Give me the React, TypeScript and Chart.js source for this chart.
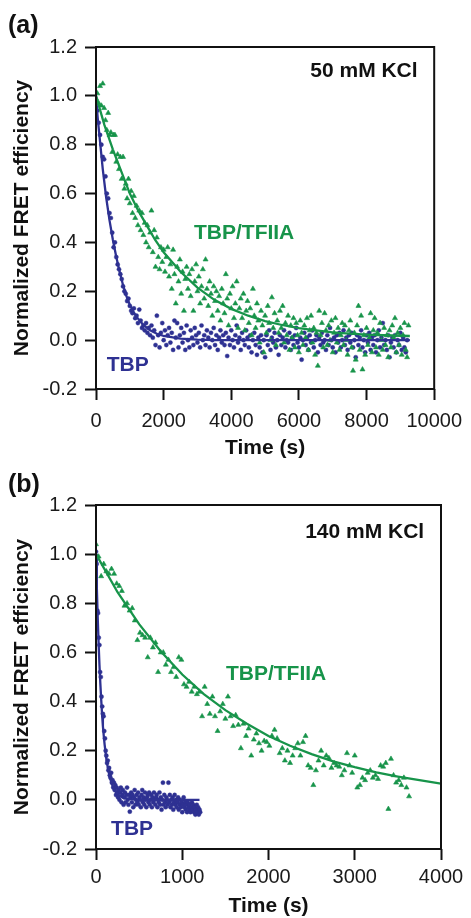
import React, { useEffect, useRef } from 'react';
import { Chart, registerables } from 'chart.js';

Chart.register(...registerables);

// ---------------- Panel (a): 50 mM KCl ----------------
const aTFIIAPoints: [number, number][] = [
  [0,0.99],[40,1.01],[80,0.97],[120,1.04],[160,0.96],[200,1.05],[240,0.95],[280,0.90],[320,0.86],[360,0.93],
  [400,0.84],[440,0.85],[480,0.77],[520,0.84],[560,0.84],[600,0.73],[640,0.76],[680,0.70],[720,0.75],[760,0.66],
  [800,0.75],[840,0.62],[880,0.64],[920,0.58],[960,0.66],[1000,0.56],[1040,0.61],[1080,0.52],[1120,0.59],[1160,0.50],
  [1200,0.55],[1240,0.47],[1280,0.53],[1320,0.45],[1360,0.52],[1400,0.43],[1440,0.48],[1480,0.40],[1520,0.47],[1560,0.38],
  [1600,0.44],[1640,0.53],[1680,0.36],[1720,0.45],[1760,0.30],[1800,0.42],[1840,0.34],[1880,0.29],[1920,0.38],[1960,0.32],
  [2000,0.37],[2040,0.28],[2080,0.34],[2120,0.38],[2160,0.26],[2200,0.31],[2240,0.21],[2280,0.37],[2320,0.27],[2360,0.15],
  [2400,0.30],[2440,0.24],[2480,0.33],[2520,0.19],[2560,0.28],[2600,0.12],[2640,0.25],[2680,0.30],[2720,0.21],[2760,0.27],
  [2800,0.18],[2840,0.29],[2880,0.12],[2920,0.24],[2960,0.31],[3000,0.20],[3040,0.26],[3080,0.15],[3120,0.22],[3160,0.29],
  [3200,0.17],[3240,0.33],[3280,0.21],[3320,0.14],[3360,0.24],[3400,0.19],[3440,0.10],[3480,0.22],[3520,0.16],[3560,0.20],
  [3600,0.12],[3640,0.18],[3680,0.08],[3720,0.21],[3760,0.15],[3800,0.11],[3840,0.27],[3880,0.17],[3920,0.06],[3960,0.19],
  [4000,0.13],[4040,0.22],[4080,0.09],[4120,0.15],[4160,0.24],[4200,0.05],[4240,0.13],[4280,0.17],[4320,0.09],[4360,0.19],
  [4400,0.04],[4440,0.12],[4480,0.16],[4520,0.07],[4560,0.13],[4600,0.02],[4640,0.21],[4680,0.10],[4720,0.05],[4760,0.15],
  [4800,0.08],[4840,-0.01],[4880,0.12],[4920,0.06],[4960,-0.05],[5000,0.10],[5040,0.03],[5080,0.14],[5120,0.07],[5160,0.00],
  [5200,0.175],[5240,0.05],[5280,0.11],[5320,-0.02],[5360,0.08],[5400,0.03],[5440,0.12],[5480,0.05],[5520,0.14],[5560,-0.01],
  [5600,0.07],[5640,0.02],[5680,0.10],[5720,-0.04],[5760,0.06],[5800,0.01],[5840,0.09],[5880,-0.03],[5920,0.07],[5960,0.02],
  [6000,-0.05],[6040,0.08],[6080,0.03],[6120,-0.02],[6160,0.06],[6200,0.01],[6240,0.09],[6280,-0.04],[6320,0.04],[6360,0.10],
  [6400,-0.01],[6440,0.05],[6480,-0.06],[6520,0.03],[6560,-0.105],[6600,0.12],[6640,0.02],[6680,0.07],[6720,-0.03],[6760,0.11],
  [6800,0.04],[6840,-0.02],[6880,0.06],[6920,0.00],[6960,0.08],[7000,-0.05],[7040,0.03],[7080,0.09],[7120,-0.01],[7160,0.05],
  [7200,-0.04],[7240,0.02],[7280,0.07],[7320,-0.02],[7360,0.06],[7400,0.00],[7440,-0.06],[7480,0.04],[7520,0.08],[7560,-0.03],
  [7600,-0.125],[7640,0.03],[7680,-0.08],[7720,0.06],[7760,0.14],[7800,-0.04],[7840,0.10],[7880,-0.12],[7920,0.02],[7960,-0.06],
  [8000,0.05],[8040,-0.02],[8080,0.01],[8120,0.11],[8160,-0.05],[8200,0.04],[8240,0.09],[8280,-0.03],[8320,0.03],[8360,-0.06],
  [8400,0.07],[8440,0.00],[8480,-0.04],[8520,0.05],[8560,-0.02],[8600,0.02],[8640,-0.07],[8680,0.04],[8720,-0.03],[8760,0.06],
  [8800,0.01],[8840,0.09],[8880,-0.05],[8920,0.03],[8960,-0.02],[9000,0.05],[9040,-0.06],[9080,0.02],[9120,0.07],[9160,-0.04],
  [9200,-0.07],[9240,0.06],
];

const aTBPPoints: [number, number][] = [
  [0,0.97],[40,0.94],[80,0.89],[120,0.84],[160,0.80],[200,0.75],[240,0.74],[280,0.67],[320,0.60],[360,0.58],
  [400,0.52],[440,0.50],[480,0.44],[520,0.38],[560,0.40],[600,0.34],[640,0.31],[680,0.29],[720,0.27],[760,0.25],
  [800,0.22],[840,0.20],[880,0.19],[920,0.16],[960,0.17],[1000,0.14],[1040,0.12],[1080,0.11],[1120,0.13],[1160,0.09],
  [1200,0.10],[1240,0.07],[1280,0.125],[1320,0.08],[1360,0.05],[1400,0.06],[1440,0.04],[1480,0.07],[1520,0.03],[1560,0.05],
  [1600,0.02],[1640,0.06],[1680,0.01],[1720,0.04],[1760,-0.02],[1800,0.10],[1840,0.02],[1880,-0.03],[1920,0.03],[1960,0.07],
  [2000,0.00],[2040,0.04],[2080,-0.02],[2120,0.02],[2160,0.05],[2200,-0.01],[2240,0.03],[2280,-0.04],[2320,0.08],[2360,0.01],
  [2400,0.07],[2440,-0.03],[2480,0.02],[2520,0.05],[2560,-0.01],[2600,0.03],[2640,-0.04],[2680,0.06],[2720,0.00],[2760,-0.03],
  [2800,0.04],[2840,0.01],[2880,-0.02],[2920,0.05],[2960,0.02],[3000,-0.01],[3040,0.03],[3080,-0.03],[3120,0.06],[3160,0.00],
  [3200,0.02],[3240,-0.02],[3280,0.04],[3320,0.01],[3360,-0.03],[3400,0.03],[3440,0.00],[3480,0.05],[3520,-0.02],[3560,0.02],
  [3600,-0.04],[3640,0.01],[3680,0.04],[3720,-0.01],[3760,0.02],[3800,-0.02],[3840,0.03],[3880,-0.065],[3920,0.01],[3960,-0.02],
  [4000,0.04],[4040,0.00],[4080,-0.03],[4120,0.02],[4160,0.06],[4200,-0.01],[4240,0.01],[4280,-0.04],[4320,0.03],[4360,0.00],
  [4400,-0.02],[4440,0.04],[4480,0.01],[4520,-0.03],[4560,0.02],[4600,-0.05],[4640,0.00],[4680,0.03],[4720,-0.02],[4760,-0.06],
  [4800,0.01],[4840,-0.03],[4880,0.02],[4920,-0.05],[4960,0.00],[5000,-0.07],[5040,0.02],[5080,-0.02],[5120,0.04],[5160,-0.04],
  [5200,0.01],[5240,-0.01],[5280,0.03],[5320,-0.03],[5360,0.00],[5400,-0.06],[5440,0.02],[5480,-0.02],[5520,0.01],[5560,0.04],
  [5600,-0.03],[5640,0.00],[5680,-0.01],[5720,0.03],[5760,-0.04],[5800,0.01],[5840,-0.02],[5880,0.02],[5920,0.05],[5960,-0.01],
  [6000,-0.03],[6040,0.01],[6080,-0.08],[6120,0.00],[6160,0.03],[6200,-0.02],[6240,0.01],[6280,-0.04],[6320,0.02],[6360,-0.01],
  [6400,0.04],[6440,-0.03],[6480,0.00],[6520,0.02],[6560,-0.05],[6600,0.01],[6640,-0.02],[6680,0.03],[6720,-0.01],[6760,0.00],
  [6800,-0.04],[6840,0.02],[6880,-0.02],[6920,0.05],[6960,0.00],[7000,-0.03],[7040,0.01],[7080,-0.05],[7120,0.02],[7160,-0.01],
  [7200,0.03],[7240,-0.03],[7280,0.00],[7320,0.04],[7360,-0.02],[7400,0.01],[7440,-0.04],[7480,0.02],[7520,-0.01],[7560,0.03],
  [7600,-0.03],[7640,0.00],[7680,-0.07],[7720,0.02],[7760,-0.02],[7800,0.01],[7840,0.04],[7880,-0.03],[7920,0.00],[7960,-0.05],
  [8000,0.02],[8040,-0.01],[8080,0.03],[8120,-0.04],[8160,0.01],[8200,-0.02],[8240,0.02],[8280,-0.05],[8320,0.00],[8360,0.04],
  [8400,-0.03],[8440,0.01],[8480,0.07],[8520,-0.02],[8560,0.00],[8600,-0.04],[8640,0.02],[8680,-0.07],[8720,-0.01],[8760,0.01],
  [8800,-0.03],[8840,0.02],[8880,-0.05],[8920,0.00],[8960,-0.02],[9000,0.03],[9040,-0.04],[9080,0.01],[9120,-0.03],[9160,-0.05],
  [9200,0.00],
];

const aTFIIAFit: [number, number][] = [
  [0,1.0],[250,0.88],[500,0.78],[750,0.69],[1000,0.60],[1250,0.53],[1500,0.47],[1750,0.41],[2000,0.36],[2500,0.28],
  [3000,0.215],[3500,0.165],[4000,0.128],[4500,0.10],[5000,0.078],[5500,0.062],[6000,0.049],[6500,0.04],[7000,0.032],
  [7500,0.027],[8000,0.023],[8500,0.02],[9000,0.018],[9280,0.017],
];

const aTBPFit: [number, number][] = [
  [0,1.0],[50,0.91],[100,0.84],[150,0.77],[200,0.70],[300,0.585],[400,0.49],[500,0.41],[600,0.34],[700,0.28],
  [800,0.225],[900,0.18],[1000,0.145],[1100,0.118],[1200,0.095],[1400,0.062],[1600,0.04],[1800,0.026],[2000,0.017],
  [2500,0.006],[3000,0.002],[3500,0.0],[9280,0.0],
];

// ---------------- Panel (b): 140 mM KCl ----------------
const bTBPPoints: [number, number][] = [
  [0,1.01],[8,0.96],[16,0.77],[24,0.76],[32,0.66],[40,0.63],[48,0.52],[56,0.50],[64,0.42],[72,0.38],
  [80,0.35],[88,0.34],[96,0.28],[104,0.25],[112,0.20],[120,0.18],[128,0.15],[136,0.16],[144,0.12],[152,0.13],
  [160,0.10],[168,0.09],[176,0.11],[184,0.07],[192,0.08],[200,0.05],[208,0.07],[216,0.04],[224,0.06],[232,0.02],
  [240,0.05],[248,0.03],[256,0.01],[264,0.04],[272,0.00],[280,0.03],[288,0.05],[296,-0.01],[304,0.02],[312,0.04],
  [320,-0.02],[328,0.01],[336,0.03],[344,-0.01],[352,0.02],[360,0.05],[368,0.00],[376,-0.02],[384,0.02],[392,-0.048],
  [400,0.01],[408,0.03],[416,-0.01],[424,0.02],[432,-0.03],[440,0.01],[448,0.04],[456,-0.02],[464,0.00],[472,0.02],
  [480,-0.01],[488,0.03],[496,-0.02],[504,0.01],[512,0.00],[520,-0.03],[528,0.02],[536,0.04],[544,-0.01],[552,0.01],
  [560,-0.02],[568,0.03],[576,0.00],[584,-0.03],[592,0.01],[600,0.02],[608,-0.01],[616,0.03],[624,-0.02],[632,0.00],
  [640,0.02],[648,-0.03],[656,0.01],[664,-0.01],[672,0.03],[680,0.00],[688,-0.02],[696,0.01],[704,0.02],[712,-0.03],
  [720,0.00],[728,-0.01],[736,0.03],[744,-0.02],[752,0.01],[760,-0.04],[768,0.00],[776,0.07],[784,-0.02],[792,0.02],
  [800,-0.01],[808,-0.03],[816,0.01],[824,0.00],[832,-0.02],[840,0.07],[848,-0.01],[856,0.02],[864,-0.03],[872,0.00],
  [880,-0.02],[888,0.01],[896,-0.04],[904,-0.01],[912,0.02],[920,-0.02],[928,0.00],[936,-0.03],[944,-0.01],[952,0.01],
  [960,-0.04],[968,-0.02],[976,0.00],[984,-0.03],[992,-0.01],[1000,-0.05],[1008,-0.02],[1016,0.01],[1024,-0.03],[1032,-0.01],
  [1040,-0.04],[1048,-0.02],[1056,-0.05],[1064,-0.01],[1072,-0.03],[1080,-0.04],[1088,-0.02],[1096,-0.05],[1104,-0.03],[1112,-0.01],
  [1120,-0.04],[1128,-0.02],[1136,-0.05],[1144,-0.03],[1152,-0.06],[1160,-0.04],[1168,-0.02],[1176,-0.05],[1184,-0.03],[1192,-0.06],
  [1200,-0.04],[1208,-0.05],
];

const bTFIIAPoints: [number, number][] = [
  [0,1.04],[30,0.99],[60,0.91],[90,0.96],[120,0.93],[150,0.92],[180,0.94],[210,0.92],[240,0.88],[270,0.87],
  [300,0.85],[330,0.79],[360,0.80],[390,0.77],[420,0.78],[450,0.73],[480,0.65],[510,0.68],[540,0.67],[570,0.66],
  [600,0.58],[630,0.66],[660,0.62],[690,0.64],[720,0.52],[750,0.60],[780,0.60],[810,0.55],[840,0.57],[870,0.52],
  [900,0.54],[930,0.50],[960,0.58],[990,0.57],[1020,0.47],[1050,0.46],[1080,0.48],[1110,0.44],[1140,0.46],[1170,0.43],
  [1200,0.44],[1230,0.34],[1260,0.46],[1290,0.39],[1320,0.35],[1350,0.42],[1380,0.34],[1410,0.28],[1440,0.36],[1470,0.39],
  [1500,0.33],[1530,0.42],[1560,0.34],[1590,0.30],[1620,0.345],[1650,0.305],[1680,0.21],[1710,0.31],[1740,0.26],[1770,0.29],
  [1800,0.18],[1830,0.245],[1860,0.27],[1890,0.23],[1920,0.20],[1950,0.24],[1980,0.235],[2010,0.22],[2040,0.26],[2070,0.285],
  [2100,0.25],[2130,0.19],[2160,0.21],[2190,0.16],[2220,0.20],[2250,0.15],[2280,0.18],[2310,0.21],[2340,0.23],[2370,0.18],
  [2400,0.235],[2430,0.26],[2460,0.14],[2490,0.13],[2520,0.06],[2550,0.12],[2580,0.16],[2610,0.20],[2640,0.14],[2670,0.18],
  [2700,0.17],[2730,0.13],[2760,0.15],[2790,0.14],[2820,0.135],[2850,0.10],[2880,0.12],[2910,0.19],[2940,0.14],[2970,0.11],
  [3000,0.18],[3030,0.05],[3060,0.06],[3090,0.09],[3120,0.08],[3150,0.11],[3180,0.12],[3210,0.09],[3240,0.10],[3270,0.085],
  [3300,0.14],[3330,0.135],[3360,0.15],[3390,-0.037],[3420,0.167],[3450,0.10],[3480,0.07],[3510,0.08],[3540,0.06],[3570,0.09],
  [3600,0.05],[3630,0.014],
];

const bTFIIAFit: [number, number][] = [
  [0,1.0],[250,0.845],[500,0.715],[750,0.605],[1000,0.51],[1250,0.43],[1500,0.365],[1750,0.31],[2000,0.26],
  [2250,0.22],[2500,0.186],[2750,0.157],[3000,0.133],[3250,0.112],[3500,0.095],[3750,0.08],[4000,0.066],
];

const bTBPFit: [number, number][] = [
  [0,1.0],[10,0.86],[20,0.74],[30,0.64],[40,0.55],[50,0.475],[60,0.41],[70,0.35],[80,0.30],[90,0.26],
  [100,0.225],[120,0.167],[140,0.124],[160,0.092],[180,0.068],[200,0.05],[240,0.028],[280,0.015],[320,0.008],
  [400,0.003],[500,0.0],[1200,0.0],
];

const yTicksLabels = ['-0.2', '0.0', '0.2', '0.4', '0.6', '0.8', '1.0', '1.2'];

// ---------------- styling ----------------
const BLUE = '#2e3192';
const GREEN = '#17944a';
const FONT = "'Liberation Sans', Arial, Helvetica, sans-serif";
const W = 471;
const H = 459;

type Label = { text: string; x: number; y: number; color: string; align: CanvasTextAlign; size: number; pixel?: boolean };

const framePlugin = {
  id: 'frameAndLabels',
  afterDraw(chart: any, _args: any, opts: any) {
    const { ctx, chartArea } = chart;
    const { left, top, right, bottom } = chartArea;
    ctx.save();
    ctx.strokeStyle = '#111';
    ctx.lineWidth = 2;
    ctx.strokeRect(left, top, right - left, bottom - top);
    const labels: Label[] = opts.labels || [];
    for (const l of labels) {
      ctx.font = `bold ${l.size}px ${FONT}`;
      ctx.fillStyle = l.color;
      ctx.textAlign = l.align;
      ctx.textBaseline = 'middle';
      const px = l.pixel ? l.x : chart.scales.x.getPixelForValue(l.x);
      const py = l.pixel ? l.y : chart.scales.y.getPixelForValue(l.y);
      ctx.fillText(l.text, px, py);
    }
    ctx.restore();
  },
};

type PanelProps = {
  xMax: number;
  xStep: number;
  blueFit: [number, number][];
  greenFit: [number, number][];
  bluePts: [number, number][];
  greenPts: [number, number][];
  labels: Label[];
  plotTop: number;
  axisHeight: number;
  xTickPad: number;
  xTitlePad: number;
};

const toXY = (arr: [number, number][]) => arr.map(([x, y]) => ({ x, y }));

function Panel(p: PanelProps) {
  const ref = useRef<HTMLCanvasElement>(null);
  useEffect(() => {
    if (!ref.current) return;
    const chart = new Chart(ref.current, {
      type: 'scatter',
      data: {
        datasets: [
          { data: toXY(p.greenFit), showLine: true, borderColor: GREEN, borderWidth: 2.3, pointRadius: 0, order: 0 } as any,
          { data: toXY(p.blueFit), showLine: true, borderColor: BLUE, borderWidth: 2.3, pointRadius: 0, order: 1 } as any,
          { data: toXY(p.greenPts), pointStyle: 'triangle', pointRadius: 2.9, backgroundColor: GREEN, borderColor: GREEN, borderWidth: 0.6, order: 2 } as any,
          { data: toXY(p.bluePts), pointStyle: 'circle', pointRadius: 2.1, backgroundColor: BLUE, borderColor: BLUE, borderWidth: 0.4, order: 3 } as any,
        ],
      },
      options: {
        animation: false,
        responsive: false,
        devicePixelRatio: 1,
        events: [],
        layout: { padding: { left: 0, right: 30, top: p.plotTop, bottom: 0 } },
        plugins: {
          legend: { display: false },
          tooltip: { enabled: false },
          frameAndLabels: { labels: p.labels },
        } as any,
        scales: {
          x: {
            type: 'linear',
            min: 0,
            max: p.xMax,
            afterFit: (s: any) => { s.height = p.axisHeight; },
            border: { display: false },
            grid: { drawOnChartArea: false, drawTicks: true, tickLength: 11, tickWidth: 2, tickColor: '#111' },
            ticks: {
              stepSize: p.xStep,
              padding: p.xTickPad,
              color: '#1a1a1a',
              font: { family: FONT, size: 20 },
              maxRotation: 0,
              callback: (v: any) => String(v),
            },
            title: {
              display: true,
              text: 'Time (s)',
              color: '#111',
              font: { family: FONT, size: 21, weight: 'bold', lineHeight: 1 },
              padding: { top: 0, bottom: p.xTitlePad },
            },
          },
          y: {
            type: 'linear',
            min: -0.2,
            max: 1.2,
            afterFit: (s: any) => { s.width = 96; },
            border: { display: false },
            grid: { drawOnChartArea: false, drawTicks: true, tickLength: 11, tickWidth: 2, tickColor: '#111' },
            ticks: {
              stepSize: 0.2,
              padding: 8,
              color: '#1a1a1a',
              font: { family: FONT, size: 20 },
              callback: (v: any) => {
                const idx = Math.round((Number(v) + 0.2) / 0.2);
                return yTicksLabels[idx] ?? Number(v).toFixed(1);
              },
            },
            title: {
              display: true,
              text: 'Normalized FRET efficiency',
              color: '#111',
              font: { family: FONT, size: 21, weight: 'bold', lineHeight: 1 },
              padding: { top: 11.5, bottom: 0 },
            },
          },
        },
      },
      plugins: [framePlugin],
    });
    return () => chart.destroy();
  }, []);
  return <canvas ref={ref} width={W} height={H} style={{ display: 'block', width: W, height: H }} />;
}

export default function App() {
  return (
    <div style={{ position: 'absolute', left: 0, top: 0, width: W, height: 918, background: '#fff', overflow: 'hidden' }}>
      <Panel
        xMax={10000}
        xStep={2000}
        blueFit={aTBPFit}
        greenFit={aTFIIAFit}
        bluePts={aTBPPoints}
        greenPts={aTFIIAPoints}
        plotTop={47}
        axisHeight={70}
        xTickPad={9}
        xTitlePad={0}
        labels={[
          { text: '(a)', x: 8, y: 26, color: '#111', align: 'left', size: 25, pixel: true },
          { text: '50 mM KCl', x: 9510, y: 1.1, color: '#111', align: 'right', size: 21 },
          { text: 'TBP/TFIIA', x: 4380, y: 0.436, color: GREEN, align: 'center', size: 21 },
          { text: 'TBP', x: 940, y: -0.102, color: BLUE, align: 'center', size: 21 },
        ]}
      />
      <Panel
        xMax={4000}
        xStep={1000}
        blueFit={bTBPFit}
        greenFit={bTFIIAFit}
        bluePts={bTBPPoints}
        greenPts={bTFIIAPoints}
        plotTop={46}
        axisHeight={69}
        xTickPad={5}
        xTitlePad={1}
        labels={[
          { text: '(b)', x: 8, y: 26, color: '#111', align: 'left', size: 25, pixel: true },
          { text: '140 mM KCl', x: 3805, y: 1.09, color: '#111', align: 'right', size: 21 },
          { text: 'TBP/TFIIA', x: 2088, y: 0.511, color: GREEN, align: 'center', size: 21 },
          { text: 'TBP', x: 418, y: -0.12, color: BLUE, align: 'center', size: 21 },
        ]}
      />
    </div>
  );
}
